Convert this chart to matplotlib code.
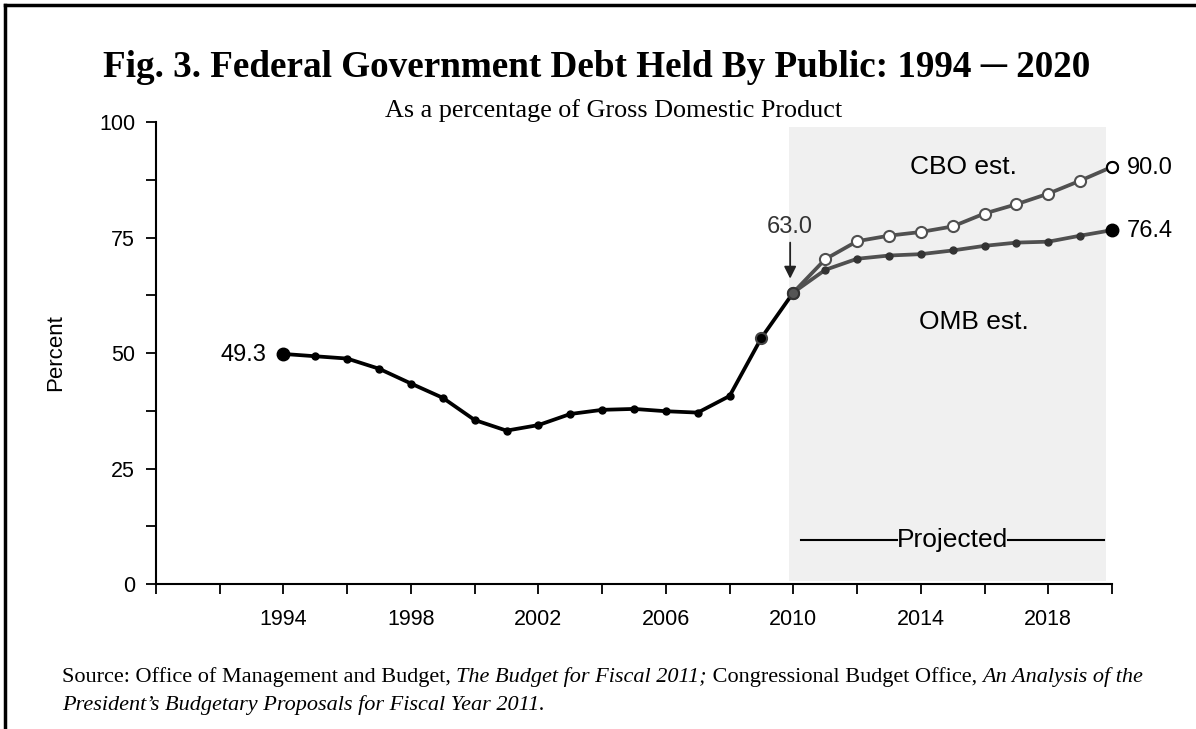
import matplotlib
matplotlib.use("Agg")
import matplotlib.pyplot as plt
from matplotlib.patches import Rectangle
from matplotlib.ticker import MultipleLocator, FixedLocator

# historical debt held by public, % of GDP
hist_years = list(range(1994, 2011))
hist_vals = [49.8, 49.3, 48.8, 46.6, 43.4, 40.3, 35.5, 33.2, 34.4, 36.8,
             37.7, 37.9, 37.4, 37.1, 40.7, 53.3, 63.1]

proj_years = list(range(2010, 2021))
cbo_vals = [63.1, 70.3, 74.2, 75.4, 76.2, 77.4, 80.2, 82.2, 84.5, 87.3, 90.3]
omb_vals = [63.1, 68.0, 70.4, 71.1, 71.4, 72.2, 73.2, 73.9, 74.1, 75.4, 76.6]

tick_years = list(range(1990, 2021, 2))
label_years = [1994, 1998, 2002, 2006, 2010, 2014, 2018]

sans = "Liberation Sans"
serif = "Liberation Serif"

fig = plt.figure(figsize=(11.96, 7.29), dpi=100)
ax = fig.add_axes([0.1304, 0.1989, 0.7994, 0.6337])
renderer = fig.canvas.get_renderer()

# projected shading
ax.add_patch(Rectangle((2009.85, 0.7), 9.95, 98.3, facecolor="#f0f0f0",
                       edgecolor="none", zorder=0))

gray = "#505050"
ax.plot(proj_years, cbo_vals, color=gray, lw=2.7, zorder=3, clip_on=False,
        marker="o", ms=8, mfc="white", mec=gray, mew=1.5)
ax.plot(proj_years, omb_vals, color=gray, lw=2.7, zorder=3, clip_on=False,
        marker="o", ms=5, mfc="#333333", mec="#333333")
ax.plot(hist_years, hist_vals, color="black", lw=2.7, zorder=4,
        marker="o", ms=5, mfc="black", mec="black")
# emphasised end points
ax.plot(hist_years[0], hist_vals[0], "o", ms=9, color="black", zorder=5)
ax.plot(hist_years[-2], hist_vals[-2], "o", ms=8, mfc="black", mec="#444444", mew=1.5, zorder=5)
ax.plot(hist_years[-1], hist_vals[-1], "o", ms=8, mfc="#555555", mec="#333333", mew=1.5, zorder=5)
ax.plot(proj_years[-1], cbo_vals[-1], "o", ms=8, mfc="white", mec="black", mew=1.5,
        zorder=5, clip_on=False)
ax.plot(proj_years[-1], omb_vals[-1], "o", ms=9, color="black", zorder=5, clip_on=False)

ax.set_xlim(1990, 2020)
ax.set_ylim(0, 100)
for s in ["top", "right"]:
    ax.spines[s].set_visible(False)
for s in ["left", "bottom"]:
    ax.spines[s].set_linewidth(1.5)

ax.xaxis.set_major_locator(FixedLocator(tick_years))
ax.set_xticklabels([str(y) if y in label_years else "" for y in tick_years])
ax.yaxis.set_major_locator(MultipleLocator(25))
ax.yaxis.set_minor_locator(MultipleLocator(12.5))
ax.tick_params(axis="both", which="both", direction="out", length=7, width=1.3,
               labelsize=15.5)
ax.tick_params(axis="x", pad=11)
ax.tick_params(axis="y", pad=8)
for lab in ax.get_xticklabels() + ax.get_yticklabels():
    lab.set_fontfamily(sans)
ax.set_ylabel("Percent", fontsize=16, fontfamily=sans, labelpad=24)

# annotations
ax.text(1993.45, 49.6, "49.3", ha="right", va="center", fontsize=17, fontfamily=sans)
ax.text(2009.9, 77.3, "63.0", ha="center", va="center", fontsize=17,
        fontfamily=sans, color="#333333")
ax.annotate("", xy=(2009.9, 65.5), xytext=(2009.9, 74.5),
            arrowprops=dict(arrowstyle="-|>", color="#222222", lw=1.3,
                            mutation_scale=18))
ax.text(2015.35, 90.3, "CBO est.", ha="center", va="center", fontsize=19, fontfamily=sans)
ax.text(2015.65, 56.7, "OMB est.", ha="center", va="center", fontsize=19, fontfamily=sans)
ax.text(2020.45, 90.0, "90.0", ha="left", va="center", fontsize=17,
        fontfamily=sans, clip_on=False)
ax.text(2020.45, 76.4, "76.4", ha="left", va="center", fontsize=17,
        fontfamily=sans, clip_on=False)
proj = ax.text(2015.0, 9.5, "Projected", ha="center", va="center", fontsize=19,
               fontfamily=sans)
pb = proj.get_window_extent(renderer=renderer).transformed(ax.transData.inverted())
ax.plot([2010.25, pb.x0], [9.5, 9.5], color="black", lw=1.5)
ax.plot([pb.x1, 2019.75], [9.5, 9.5], color="black", lw=1.5)

# titles
fig.text(0.499, 0.907, "Fig. 3. Federal Government Debt Held By Public: 1994 \u2500 2020",
         ha="center", va="center", fontsize=26.7, fontweight="bold", fontfamily=serif)
fig.text(0.513, 0.849, "As a percentage of Gross Domestic Product",
         ha="center", va="center", fontsize=18.8, fontfamily=serif)

# source note with mixed italic
def chain(parts, x, y):
    for txt, style in parts:
        t = fig.text(x, y, txt, ha="left", va="baseline", fontsize=16,
                     fontfamily=serif, fontstyle=style)
        bb = t.get_window_extent(renderer=renderer)
        x = x + bb.width / fig.bbox.width

chain([("Source: Office of Management and Budget, ", "normal"),
       ("The Budget for Fiscal 2011;", "italic"),
       (" Congressional Budget Office, ", "normal"),
       ("An Analysis of the", "italic")], 0.0518, 0.064)
chain([("President\u2019s Budgetary Proposals for Fiscal Year 2011.", "italic")], 0.0518, 0.026)

# frame lines top and left
fig.add_artist(plt.Line2D([0.0045, 1.0], [0.9935, 0.9935], color="black", lw=2.5))
fig.add_artist(plt.Line2D([0.0045, 0.0045], [0.0, 0.9935], color="black", lw=2.5))

fig.savefig("out.png", dpi=100)
